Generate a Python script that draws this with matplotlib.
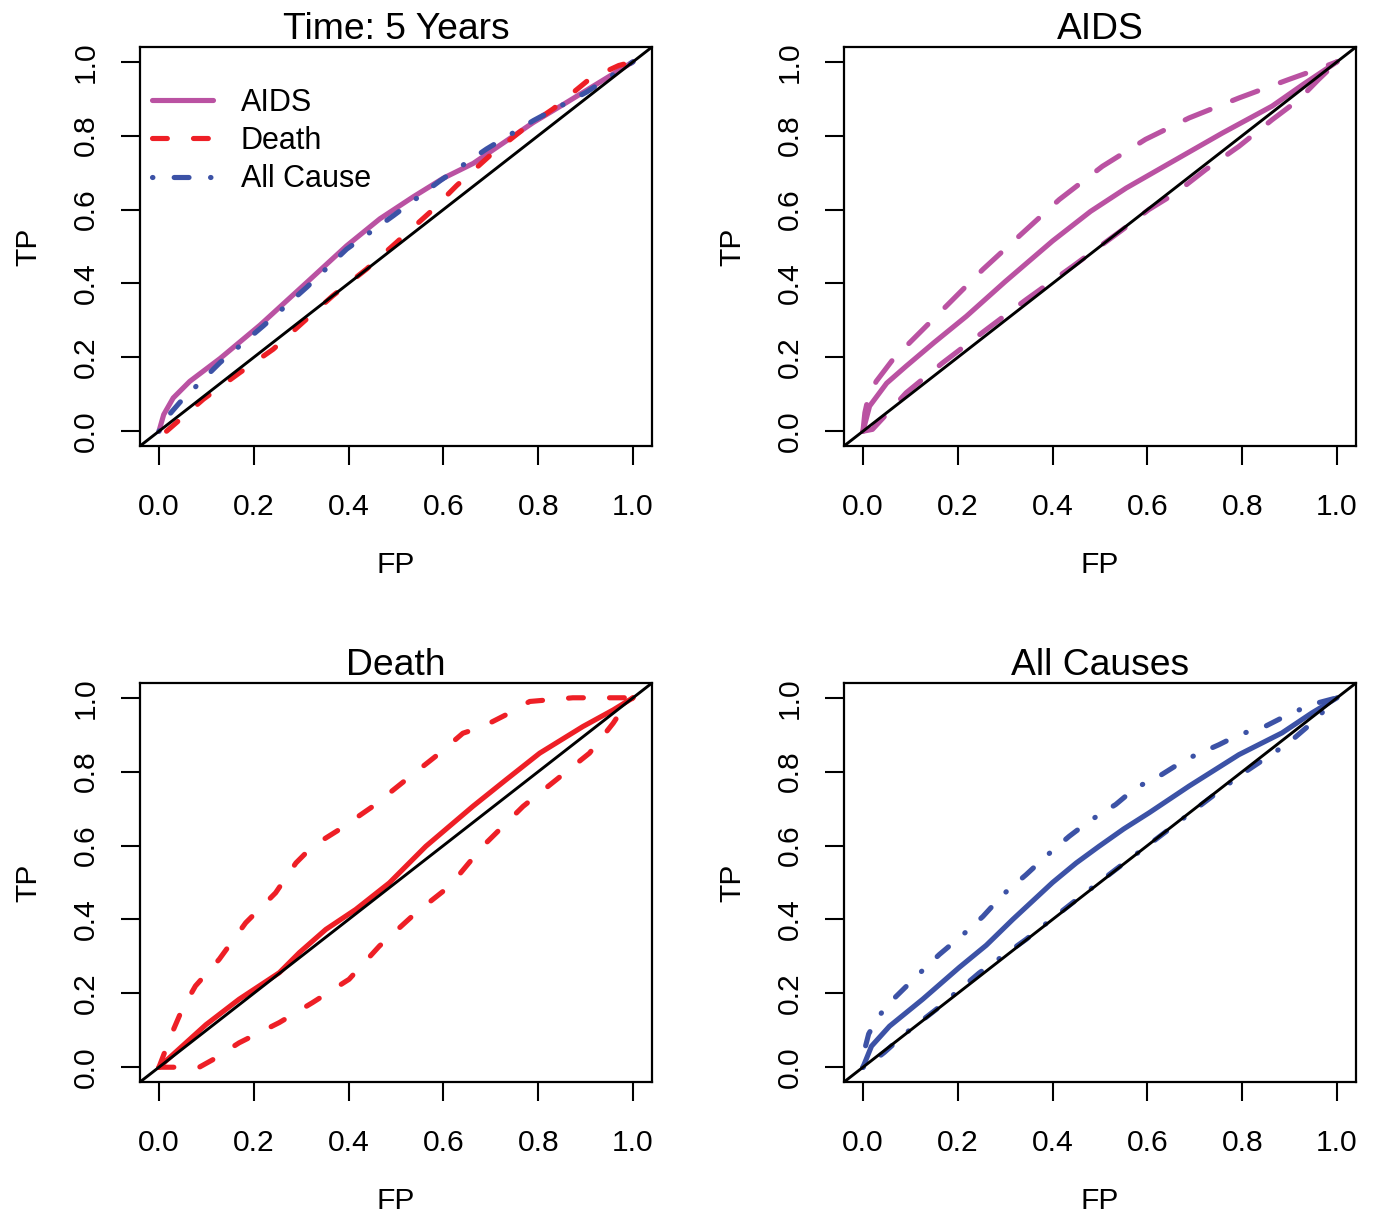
#!/usr/bin/env python3
"""
Time-dependent ROC curves (5 years) for AIDS, Death and all causes, 2x2 panels.
"""

import matplotlib
matplotlib.use("Agg")
import matplotlib.pyplot as plt

plt.rcParams['font.family'] = ['Liberation Sans', 'DejaVu Sans']
plt.rcParams['lines.scale_dashes'] = False

# --- data ----------------------------------------------------------------

# panel 1: estimates only
t5_aids_fp = [0.0, 0.01, 0.03, 0.065, 0.129, 0.213, 0.312, 0.396, 0.466, 0.537, 0.6, 0.663, 0.79, 0.86, 0.93, 1.0]
t5_aids_tp = [0.0, 0.045, 0.09, 0.135, 0.197, 0.287, 0.403, 0.502, 0.575, 0.635, 0.685, 0.725, 0.836, 0.89, 0.945, 1.0]
t5_death_fp = [0.016, 0.094, 0.171, 0.241, 0.304, 0.367, 0.438, 0.501, 0.572, 0.628, 0.698, 0.769, 0.832, 0.909, 0.97, 1.0]
t5_death_tp = [0.0, 0.087, 0.159, 0.222, 0.295, 0.367, 0.439, 0.511, 0.593, 0.665, 0.746, 0.818, 0.873, 0.954, 0.99, 1.0]
t5_all_fp = [0.0, 0.015, 0.044, 0.129, 0.22, 0.312, 0.396, 0.494, 0.593, 0.691, 0.79, 0.902, 1.0]
t5_all_tp = [0.0, 0.035, 0.078, 0.186, 0.285, 0.39, 0.493, 0.583, 0.678, 0.764, 0.841, 0.918, 1.0]

# panel 2: AIDS with bands
aids_fp = [0.0, 0.014, 0.05, 0.091, 0.15, 0.218, 0.3, 0.4, 0.48, 0.555, 0.653, 0.758, 0.863, 0.93, 1.0]
aids_tp = [0.0, 0.068, 0.13, 0.176, 0.24, 0.311, 0.405, 0.515, 0.595, 0.658, 0.73, 0.807, 0.88, 0.94, 1.0]
aids_hi_fp = [0.0, 0.004, 0.011, 0.028, 0.063, 0.098, 0.176, 0.253, 0.337, 0.414, 0.505, 0.596, 0.688, 0.793, 0.898, 0.961, 1.0]
aids_hi_tp = [0.0, 0.05, 0.09, 0.135, 0.194, 0.239, 0.339, 0.438, 0.537, 0.627, 0.717, 0.79, 0.848, 0.902, 0.952, 0.981, 1.0]
aids_lo_fp = [0.0, 0.02, 0.049, 0.091, 0.168, 0.26, 0.344, 0.442, 0.547, 0.603, 0.66, 0.723, 0.793, 0.863, 0.919, 0.961, 1.0]
aids_lo_tp = [0.0, 0.005, 0.045, 0.104, 0.185, 0.275, 0.356, 0.446, 0.545, 0.6, 0.645, 0.708, 0.771, 0.843, 0.897, 0.952, 1.0]

# panel 3: Death with bands
death_fp = [0.0, 0.099, 0.169, 0.254, 0.296, 0.352, 0.415, 0.486, 0.563, 0.662, 0.732, 0.803, 0.894, 0.958, 1.0]
death_tp = [0.0, 0.115, 0.184, 0.256, 0.31, 0.373, 0.427, 0.499, 0.598, 0.706, 0.778, 0.85, 0.922, 0.967, 1.0]
death_hi_fp = [0.0, 0.028, 0.049, 0.077, 0.127, 0.183, 0.246, 0.289, 0.324, 0.38, 0.451, 0.521, 0.592, 0.641, 0.683, 0.732, 0.782, 0.873, 1.0]
death_hi_tp = [0.0, 0.094, 0.157, 0.22, 0.292, 0.391, 0.472, 0.553, 0.598, 0.643, 0.706, 0.778, 0.85, 0.904, 0.922, 0.954, 0.99, 1.0, 1.0]
death_lo_fp = [0.0, 0.035, 0.085, 0.113, 0.169, 0.254, 0.324, 0.401, 0.465, 0.542, 0.613, 0.683, 0.768, 0.838, 0.908, 0.958, 0.986, 1.0]
death_lo_tp = [0.0, 0.0, 0.0, 0.02, 0.066, 0.121, 0.175, 0.238, 0.328, 0.418, 0.49, 0.598, 0.706, 0.778, 0.85, 0.931, 0.985, 1.0]

# panel 4: all causes with bands
all_fp = [0.0, 0.018, 0.056, 0.126, 0.203, 0.26, 0.316, 0.4, 0.45, 0.498, 0.55, 0.604, 0.688, 0.793, 0.884, 0.947, 1.0]
all_tp = [0.0, 0.057, 0.111, 0.184, 0.27, 0.33, 0.4, 0.5, 0.553, 0.598, 0.645, 0.689, 0.761, 0.846, 0.905, 0.959, 1.0]
all_hi_fp = [0.0, 0.004, 0.012, 0.025, 0.039, 0.067, 0.12, 0.161, 0.211, 0.253, 0.295, 0.344, 0.386, 0.435,
             0.477, 0.533, 0.575, 0.625, 0.681, 0.751, 0.793, 0.849, 0.898, 0.947, 1.0]
all_hi_tp = [0.0, 0.05, 0.09, 0.12, 0.147, 0.188, 0.255, 0.305, 0.359, 0.408, 0.467, 0.521, 0.571, 0.625,
             0.666, 0.711, 0.756, 0.788, 0.833, 0.873, 0.9, 0.923, 0.955, 0.982, 1.0]
all_lo_fp = [0.0, 0.02, 0.045, 0.091, 0.154, 0.245, 0.344, 0.442, 0.533, 0.617, 0.709, 0.793, 0.856, 0.898, 0.947, 0.982, 1.0]
all_lo_tp = [0.0, 0.015, 0.04, 0.093, 0.156, 0.255, 0.346, 0.445, 0.535, 0.616, 0.706, 0.788, 0.842, 0.878, 0.932, 0.977, 1.0]

ticks = [0.0, 0.2, 0.4, 0.6, 0.8, 1.0]
tick_labels = ["0.0", "0.2", "0.4", "0.6", "0.8", "1.0"]
titles = ["Time: 5 Years", "AIDS", "Death", "All Causes"]
legend_labels = ["AIDS", "Death", "All Cause"]

# --- styles ----------------------------------------------------------------
MAGENTA = '#BA52A2'
RED = '#EE1F26'
BLUE = '#3C52A6'
LW = 3.7
DASH_LONG = (0, (19.4, 17.4))
DASH_SHORT = (0, (10.7, 18.8))
DOTDASH = (0, (0.3, 15.3, 10.7, 15.5))

fig = plt.figure(figsize=(13.74, 12.17), dpi=100)
W, H = 1374, 1217
boxes = [(140, 47), (844, 47), (140, 683), (844, 683)]
axes = []
for (x0, y0) in boxes:
    ax = fig.add_axes([x0 / W, 1 - (y0 + 399) / H, 512 / W, 399 / H])
    axes.append(ax)


def curve(ax, fp, tp, color, ls):
    line, = ax.plot(fp, tp, color=color, lw=LW, linestyle=ls,
                    solid_capstyle='round', dash_capstyle='round',
                    solid_joinstyle='round')
    return line


# panel 1
ax = axes[0]
l1 = curve(ax, t5_aids_fp, t5_aids_tp, MAGENTA, '-')
l2 = curve(ax, t5_death_fp, t5_death_tp, RED, DASH_SHORT)
l3 = curve(ax, t5_all_fp, t5_all_tp, BLUE, DOTDASH)
ax.legend(handles=[l1, l2, l3], labels=legend_labels, loc='upper left',
          bbox_to_anchor=(0.0234, 0.897), borderaxespad=0, borderpad=0,
          handlelength=2.0, handletextpad=0.9, labelspacing=0.265,
          frameon=False, fontsize=22)

# panel 2
ax = axes[1]
curve(ax, aids_fp, aids_tp, MAGENTA, '-')
curve(ax, aids_hi_fp, aids_hi_tp, MAGENTA, DASH_LONG)
curve(ax, aids_lo_fp, aids_lo_tp, MAGENTA, DASH_LONG)

# panel 3
ax = axes[2]
curve(ax, death_fp, death_tp, RED, '-')
curve(ax, death_hi_fp, death_hi_tp, RED, DASH_SHORT)
curve(ax, death_lo_fp, death_lo_tp, RED, DASH_SHORT)

# panel 4
ax = axes[3]
curve(ax, all_fp, all_tp, BLUE, '-')
curve(ax, all_hi_fp, all_hi_tp, BLUE, DOTDASH)
curve(ax, all_lo_fp, all_lo_tp, BLUE, DOTDASH)

for ax, title in zip(axes, titles):
    ax.axline((0, 0), slope=1, color='black', lw=2.1)
    ax.set_xlim(-0.04, 1.04)
    ax.set_ylim(-0.04, 1.04)
    ax.set_xticks(ticks)
    ax.set_xticklabels(tick_labels)
    ax.set_yticks(ticks)
    ax.set_yticklabels(tick_labels, rotation=90, va='center')
    ax.tick_params(direction='out', length=13.7, width=1.5, labelsize=21.6)
    ax.tick_params(axis='x', pad=20)
    ax.tick_params(axis='y', pad=15)
    for sp in ax.spines.values():
        sp.set_linewidth(1.6)
    ax.set_title(title, fontsize=26.8, pad=5)
    ax.set_xlabel('FP', fontsize=21.6, va='center')
    ax.set_ylabel('TP', fontsize=21.6, va='center', ha='center')
    ax.xaxis.set_label_coords(0.5, -(565 - 446) / 399)
    ax.yaxis.set_label_coords(-(140 - 28) / 512, 0.5)

fig.savefig('out.png', dpi=100)
